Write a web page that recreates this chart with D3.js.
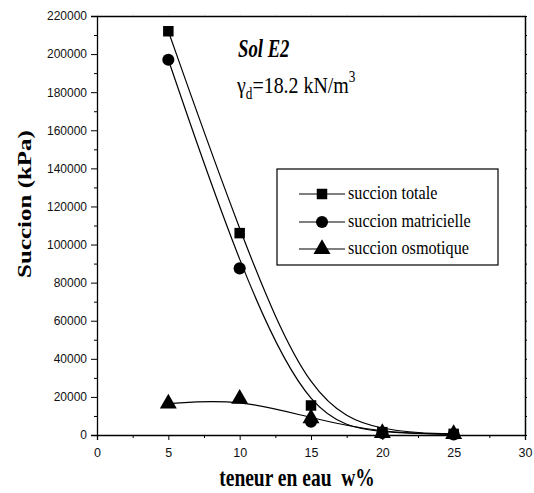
<!DOCTYPE html>
<html><head><meta charset="utf-8">
<script src="https://cdn.jsdelivr.net/npm/d3@7/dist/d3.min.js"></script>
<style>body{margin:0;background:#fff}svg{display:block}</style>
</head><body>
<svg id="c" width="534" height="493"></svg>
<script>
const teneur = [5, 10, 15, 20, 25];
const succionTotale = [212000, 106000, 15500, 1500, 600];
const succionMatricielle = [197000, 87500, 7000, 1000, 300];
const succionOsmotique = [16500, 19000, 8800, 1000, 500];
const seriesNames = ["succion totale", "succion matricielle", "succion osmotique"];
const seriesSymbols = [d3.symbolSquare, d3.symbolCircle, d3.symbolTriangle];
const xTicks = [0, 5, 10, 15, 20, 25, 30];
const yTicks = [0, 20000, 40000, 60000, 80000, 100000, 120000, 140000, 160000, 180000, 200000, 220000];

const svg = d3.select("#c");
const L = 97, R = 525, T = 16, B = 435;
const x = d3.scaleLinear().domain([0, 30]).range([L, R]);
const y = d3.scaleLinear().domain([0, 220000]).range([B, T]);

const tickFont = "'Liberation Sans', Arial, sans-serif";
const serif = "'Liberation Serif', 'Times New Roman', serif";

const xMinor = d3.range(2.5, 30, 5);
const yMinor = d3.range(10000, 220000, 20000);

// bottom axis
const gx = svg.append("g").attr("transform", `translate(0,${B})`)
  .call(d3.axisBottom(x).tickValues(xTicks).tickFormat(d3.format("d")).tickSize(5).tickPadding(8));
gx.selectAll("line").attr("stroke", "#000");
gx.select(".domain").attr("stroke", "#000").attr("stroke-width", 1.3);
gx.selectAll("text").attr("font-family", tickFont).attr("font-size", 12.5).attr("fill", "#111");
svg.append("g").attr("transform", `translate(0,${B})`)
  .call(d3.axisBottom(x).tickValues(xMinor).tickFormat("").tickSize(3))
  .call(g => g.select(".domain").remove());

// left axis
const gy = svg.append("g").attr("transform", `translate(${L},0)`)
  .call(d3.axisLeft(y).tickValues(yTicks).tickFormat(d3.format("d")).tickSize(6).tickPadding(4));
gy.select(".domain").attr("stroke", "#000").attr("stroke-width", 1.3);
gy.selectAll("text").attr("font-family", tickFont).attr("font-size", 12).attr("fill", "#111");
svg.append("g").attr("transform", `translate(${L},0)`)
  .call(d3.axisLeft(y).tickValues(yMinor).tickFormat("").tickSize(3))
  .call(g => g.select(".domain").remove());

// right axis
const gr = svg.append("g").attr("transform", `translate(${R},0)`)
  .call(d3.axisRight(y).tickValues(d3.range(0, 230000, 10000)).tickFormat("").tickSize(2).tickSizeOuter(0));
gr.select(".domain").attr("stroke", "#000").attr("stroke-width", 1.5);
// top axis
const gt = svg.append("g").attr("transform", `translate(0,${T})`)
  .call(d3.axisTop(x).tickValues(d3.range(0, 30.1, 2.5)).tickFormat("").tickSize(1.5).tickSizeOuter(0));
gt.select(".domain").attr("stroke", "#000").attr("stroke-width", 1.5);
gt.selectAll("line").attr("stroke", "#bbb");

// axis titles (condensed look)
svg.append("text").attr("transform", "translate(297,486) scale(0.78,1)").attr("text-anchor", "middle")
  .attr("font-family", serif).attr("font-weight", "bold").attr("font-size", 25)
  .attr("xml:space", "preserve").text("teneur en eau  w%");
svg.append("text").attr("transform", "translate(31,204) scale(0.78,1) rotate(-90)").attr("text-anchor", "middle")
  .attr("font-family", serif).attr("font-weight", "bold").attr("font-size", 25)
  .text("Succion (kPa)");

// curves & markers
const allSeries = [succionTotale, succionMatricielle, succionOsmotique];
const line = d3.line().x(d => x(d[0])).y(d => y(d[1])).curve(d3.curveBasis);
const symSizes = [110, 115, 125];
allSeries.forEach((vals, i) => {
  const pts = teneur.map((t, j) => [t, vals[j]]);
  svg.append("path").attr("d", line(pts)).attr("fill", "none").attr("stroke", "#000").attr("stroke-width", 1.2);
  svg.append("g").selectAll("path").data(pts).join("path")
    .attr("transform", d => `translate(${x(d[0])},${y(d[1])})`)
    .attr("d", d3.symbol(seriesSymbols[i], symSizes[i]))
    .attr("fill", "#000");
});

// annotations
svg.append("text").attr("transform", "translate(238,57) scale(0.72,1)")
  .attr("font-family", serif).attr("font-weight", "bold").attr("font-style", "italic").attr("font-size", 26)
  .text("Sol E2");
const g2 = svg.append("text").attr("transform", "translate(237,93) scale(0.83,1)")
  .attr("font-family", serif).attr("font-size", 24);
g2.append("tspan").text("γ");
g2.append("tspan").attr("font-size", 16).attr("dy", 6).text("d");
g2.append("tspan").attr("dy", -6).text("=18.2 kN/m");
g2.append("tspan").attr("font-size", 16).attr("dy", -11).text("3");

// legend
svg.append("rect").attr("x", 277).attr("y", 169).attr("width", 221).attr("height", 96)
  .attr("fill", "#fff").attr("stroke", "#000").attr("stroke-width", 1.2);
const rowsY = [194, 222, 249];
seriesNames.forEach((name, i) => {
  svg.append("line").attr("x1", 299).attr("x2", 345).attr("y1", rowsY[i]).attr("y2", rowsY[i])
    .attr("stroke", "#000").attr("stroke-width", 1.2);
  svg.append("path").attr("transform", `translate(322,${rowsY[i]})`)
    .attr("d", d3.symbol(seriesSymbols[i], symSizes[i])).attr("fill", "#000");
  svg.append("text").attr("transform", `translate(348,${rowsY[i] + 5}) scale(0.9,1)`)
    .attr("font-family", serif).attr("font-size", 18).text(name);
});
</script>
</body></html>
